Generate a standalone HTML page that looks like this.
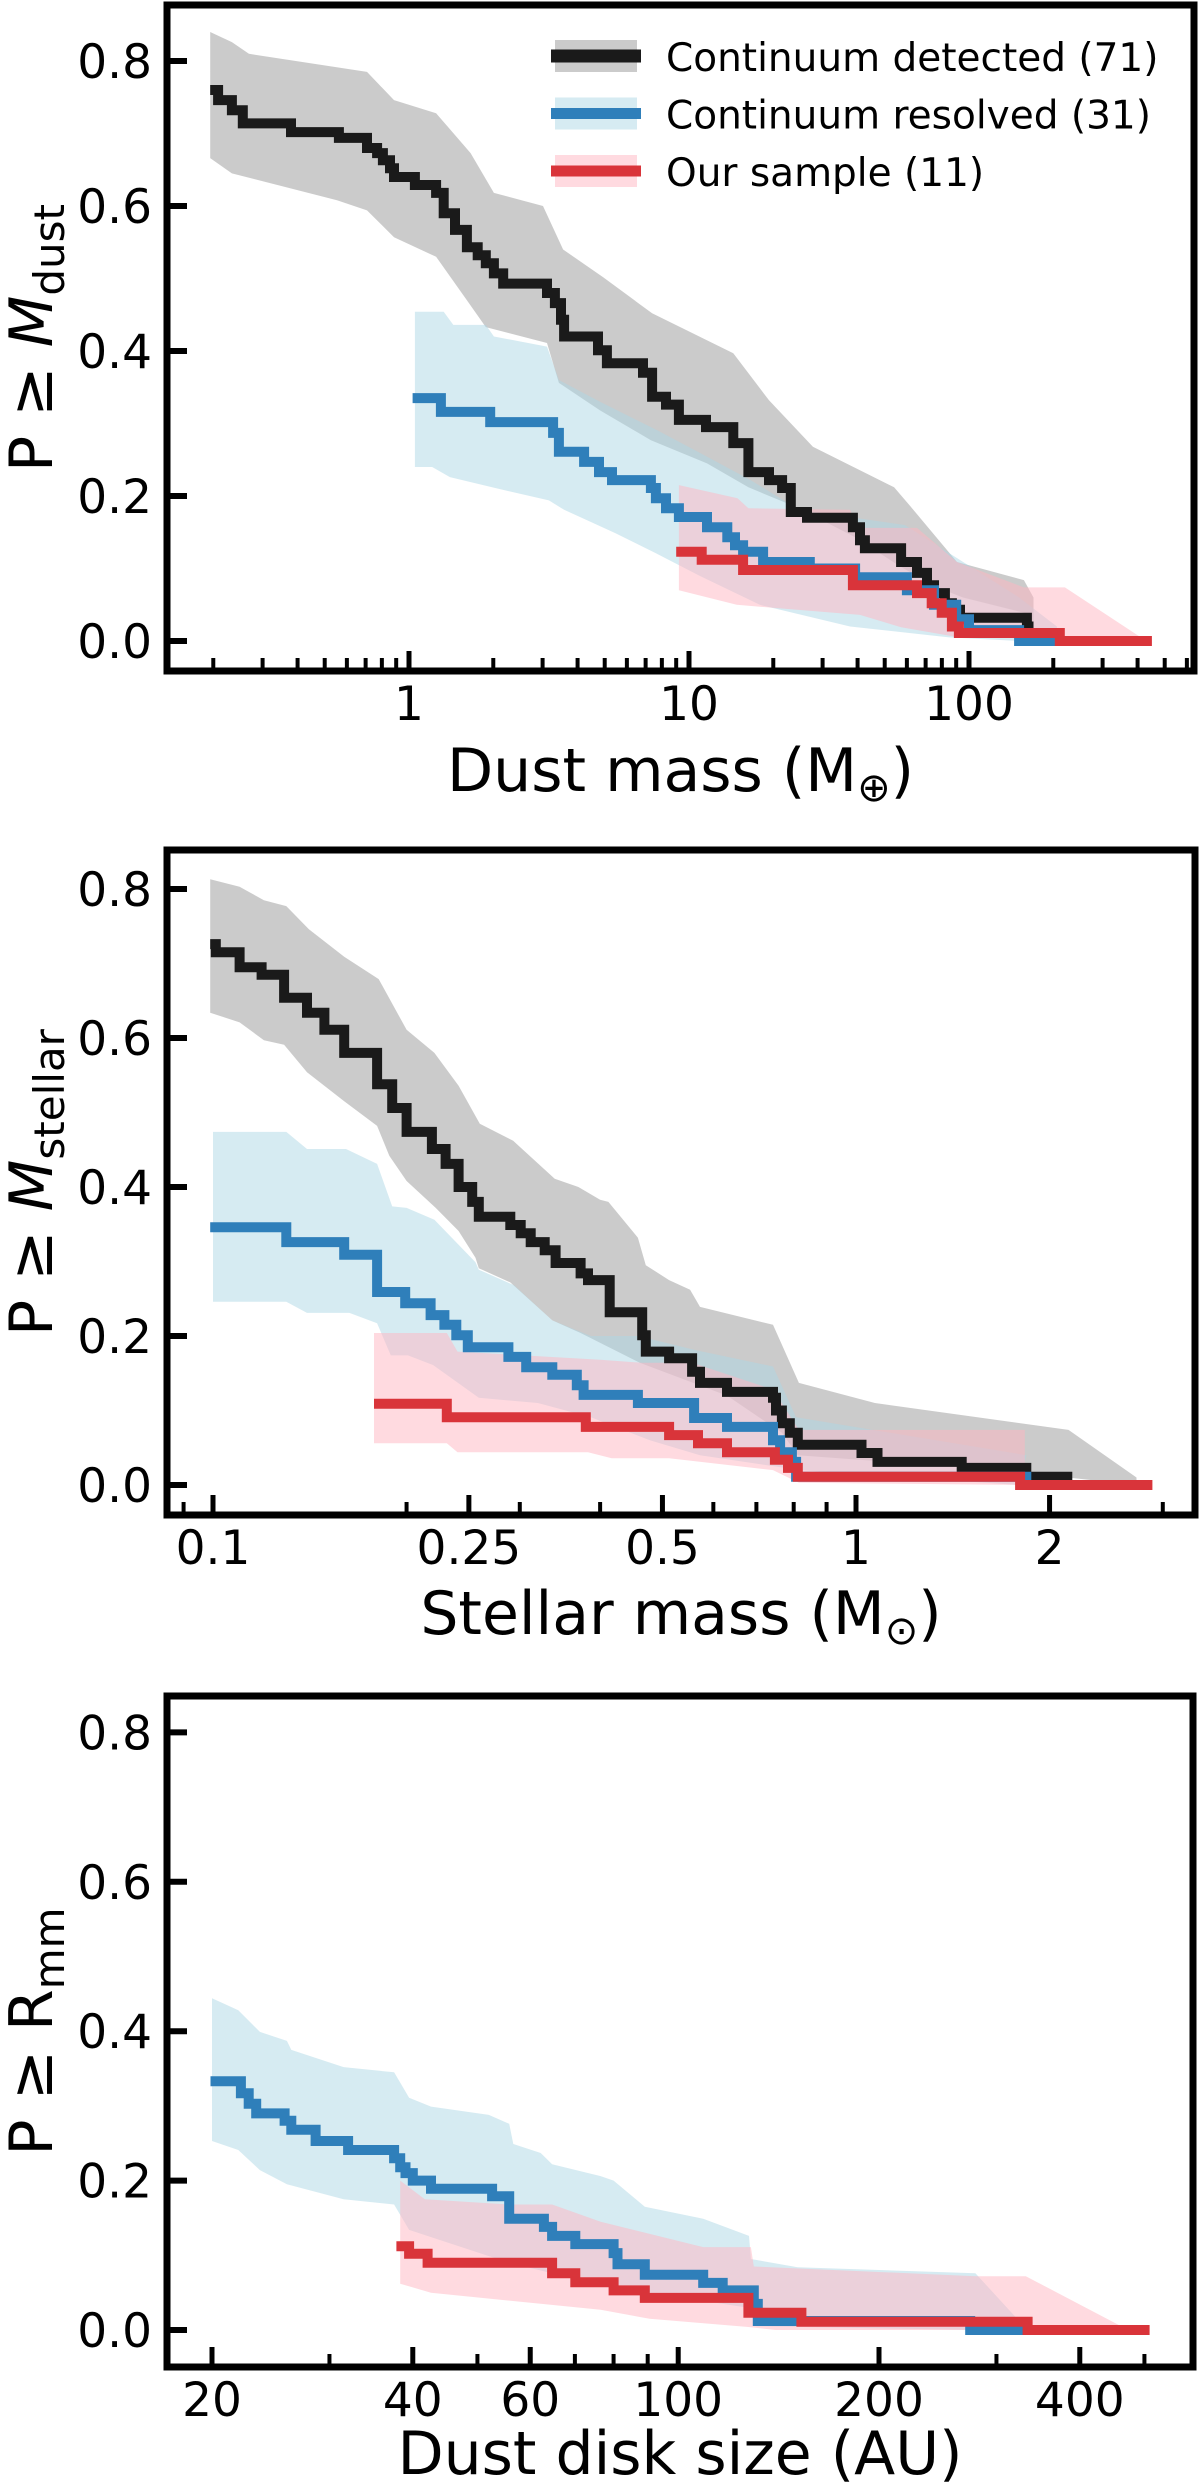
<!DOCTYPE html>
<html><head><meta charset="utf-8"><style>
html,body{margin:0;padding:0;background:#fff;}
svg{display:block;font-family:"DejaVu Sans","Liberation Sans",sans-serif;}
</style></head><body>
<svg id="fig" width="1200" height="2489" viewBox="0 0 1200 2489" xmlns="http://www.w3.org/2000/svg"></svg>
<script>
// ---------- Panel 1: dust mass ----------
const p1BlackX=[0.195,0.208,0.233,0.255,0.379,0.562,0.708,0.769,0.807,0.855,0.884,1.05,1.25,1.33,1.46,1.61,1.76,1.88,2.01,2.17,3.11,3.32,3.49,3.58,4.73,5.09,6.85,7.38,8.28,9.2,11.5,14.4,16.3,19.3,21.5,23.1,26.4,38.5,40.8,42.5,57.2,65.2,70.8,75,82,86.9,92.9,161];
const p1BlackY=[0.76,0.746,0.732,0.714,0.702,0.694,0.68,0.673,0.663,0.652,0.64,0.629,0.618,0.59,0.567,0.543,0.532,0.521,0.507,0.493,0.48,0.466,0.443,0.42,0.401,0.383,0.37,0.337,0.326,0.305,0.295,0.273,0.233,0.222,0.211,0.178,0.17,0.157,0.139,0.128,0.109,0.094,0.077,0.066,0.052,0.043,0.032,0.02];
const p1BlackEnd=170;
const p1BlueX=[1.03,1.3,1.95,3.27,3.43,4.22,4.77,5.31,7.31,7.62,8.28,9.2,11.6,13.7,14.6,15.6,18.4,27,39.2,60,75,90,100,151];
const p1BlueY=[0.335,0.316,0.302,0.287,0.261,0.247,0.233,0.222,0.211,0.197,0.183,0.171,0.157,0.143,0.132,0.123,0.109,0.1,0.088,0.07,0.05,0.03,0.015,0];
const p1BlueEnd=206;
const p1RedX=[9.0,11.1,15.6,38.5,65.2,73.6,79.9,86.9,92,211];
const p1RedY=[0.123,0.112,0.098,0.077,0.066,0.052,0.039,0.02,0.011,0];
const p1RedEnd=450;
const p1BlackUpX=[0.195,0.233,0.268,0.708,0.884,1.25,1.66,2.01,3.01,3.55,4.93,7.38,14.4,19.3,27.7,54,62,90.6,157,170];
const p1BlackUpY=[0.84,0.826,0.81,0.785,0.746,0.728,0.673,0.618,0.6,0.54,0.502,0.452,0.397,0.332,0.268,0.212,0.185,0.109,0.084,0.06];
const p1BlackLoX=[0.195,0.233,0.553,0.708,0.884,1.25,1.61,1.88,3.11,3.43,4.81,7.31,11.6,16.3,24.7,39.2,57.2,76.9,95.2,157,170];
const p1BlackLoY=[0.666,0.645,0.608,0.594,0.557,0.53,0.47,0.433,0.411,0.356,0.318,0.277,0.245,0.212,0.183,0.143,0.102,0.074,0.06,0.039,0.0];
const p1BlueUpX=[1.05,1.33,1.44,1.88,2.01,3.11,3.43,4.81,7.67,11.0,16.6,24.7,59,151,206];
const p1BlueUpY=[0.454,0.454,0.436,0.436,0.42,0.406,0.36,0.33,0.291,0.259,0.222,0.181,0.16,0.06,0.02];
const p1BlueLoX=[1.05,1.21,1.4,1.98,3.16,3.58,5.44,7.62,10.9,17.9,37.6,85,151,206];
const p1BlueLoY=[0.24,0.24,0.226,0.212,0.194,0.181,0.149,0.121,0.09,0.05,0.02,0.005,0,0];
const p1RedUpX=[9.2,14.9,16.3,37.6,40,65.2,90.6,157,220,411];
const p1RedUpY=[0.215,0.197,0.183,0.181,0.156,0.156,0.109,0.074,0.074,0.005];
const p1RedLoX=[9.2,14.8,40.8,57.2,89,411];
const p1RedLoY=[0.07,0.05,0.036,0.019,0.006,0];
const p1MajorTicks=[1,10,100];
const p1MajorLabels=["1","10","100"];
const p1MinorTicks=[0.2,0.3,0.4,0.5,0.6,0.7,0.8,0.9,2,3,4,5,6,7,8,9,20,30,40,50,60,70,80,90,200,300,400,500,600];

// ---------- Panel 2: stellar mass ----------
const p2BlackX=[0.099,0.101,0.11,0.119,0.129,0.14,0.149,0.16,0.18,0.19,0.2,0.219,0.23,0.241,0.253,0.259,0.29,0.301,0.312,0.328,0.341,0.373,0.383,0.414,0.465,0.471,0.512,0.556,0.572,0.63,0.743,0.751,0.767,0.789,0.812,1.02,1.08,1.46,1.84];
const p2BlackY=[0.726,0.715,0.695,0.685,0.654,0.634,0.611,0.58,0.538,0.506,0.474,0.451,0.431,0.4,0.38,0.36,0.349,0.338,0.326,0.315,0.298,0.284,0.275,0.232,0.201,0.179,0.17,0.152,0.137,0.125,0.117,0.1,0.083,0.07,0.054,0.043,0.031,0.023,0.011];
const p2BlackEnd=2.17;
const p2BlueX=[0.099,0.13,0.16,0.18,0.199,0.218,0.229,0.239,0.249,0.288,0.307,0.337,0.368,0.377,0.458,0.56,0.63,0.743,0.762,0.795,0.807,1.84];
const p2BlueY=[0.346,0.326,0.309,0.259,0.244,0.228,0.215,0.201,0.185,0.172,0.158,0.148,0.134,0.121,0.11,0.09,0.078,0.06,0.044,0.031,0.011,0];
const p2BlueEnd=2.0;
const p2RedX=[0.178,0.231,0.38,0.512,0.568,0.63,0.748,0.784,0.812,1.8];
const p2RedY=[0.109,0.091,0.078,0.067,0.056,0.044,0.034,0.023,0.011,0];
const p2RedEnd=2.89;
const p2BlackUpX=[0.099,0.11,0.12,0.13,0.141,0.16,0.181,0.2,0.221,0.241,0.26,0.293,0.34,0.37,0.4,0.412,0.458,0.471,0.512,0.552,0.572,0.743,0.815,1.07,2.14,2.73];
const p2BlackUpY=[0.813,0.803,0.785,0.777,0.746,0.709,0.679,0.611,0.58,0.536,0.485,0.462,0.411,0.4,0.383,0.38,0.332,0.295,0.275,0.262,0.239,0.215,0.137,0.11,0.074,0.01];
const p2BlackLoX=[0.099,0.11,0.12,0.129,0.14,0.16,0.18,0.188,0.2,0.222,0.241,0.256,0.259,0.29,0.337,0.373,0.461,0.63,0.767,0.812,1.67,2.73];
const p2BlackLoY=[0.634,0.621,0.597,0.591,0.554,0.515,0.482,0.442,0.408,0.372,0.341,0.305,0.291,0.272,0.221,0.204,0.164,0.12,0.07,0.04,0.02,0];
const p2BlueUpX=[0.1,0.13,0.14,0.161,0.18,0.19,0.2,0.221,0.256,0.259,0.294,0.337,0.387,0.4,0.458,0.564,0.743,0.807,1.84];
const p2BlueUpY=[0.474,0.474,0.451,0.451,0.431,0.374,0.372,0.356,0.299,0.289,0.268,0.221,0.2,0.2,0.2,0.181,0.159,0.091,0.04];
const p2BlueLoX=[0.1,0.13,0.14,0.163,0.18,0.189,0.201,0.22,0.259,0.32,0.387,0.478,0.572,0.818,1.79];
const p2BlueLoY=[0.246,0.246,0.231,0.231,0.217,0.174,0.174,0.161,0.117,0.11,0.091,0.06,0.04,0.02,0];
const p2RedUpX=[0.178,0.231,0.24,0.4,0.465,0.556,0.743,0.815,1.83];
const p2RedUpY=[0.204,0.204,0.179,0.168,0.164,0.164,0.128,0.074,0.074];
const p2RedLoX=[0.178,0.231,0.24,0.383,0.417,0.512,0.743,0.815,1.83];
const p2RedLoY=[0.056,0.056,0.044,0.044,0.036,0.036,0.02,0.003,0];
const p2MajorTicks=[0.1,0.25,0.5,1,2];
const p2MajorLabels=["0.1","0.25","0.5","1","2"];
const p2MinorTicks=[0.09,0.2,0.3,0.4,0.6,0.7,0.8,0.9,3];

// ---------- Panel 3: dust disk size ----------
const p3BlueX=[19.9,22.1,22.7,23.3,25.7,26.3,28.6,32.0,37.5,38.3,39.0,40.0,42.6,52.6,55.8,62.9,64.7,70.1,80,81.1,89.1,109,116.6,129.8,131.6,274];
const p3BlueY=[0.333,0.317,0.303,0.29,0.28,0.268,0.253,0.241,0.23,0.218,0.21,0.2,0.189,0.179,0.149,0.138,0.126,0.115,0.103,0.088,0.074,0.063,0.053,0.035,0.012,0];
const p3BlueEnd=332;
const p3RedX=[37.8,39.5,42.1,64.7,70.1,80,89.1,127.4,153,334];
const p3RedY=[0.112,0.102,0.09,0.076,0.064,0.053,0.043,0.023,0.011,0];
const p3RedEnd=509;
const p3BlueUpX=[20,21.9,23.6,25.9,26.3,31.5,37.5,39.5,42.6,52,55.8,56.6,62.2,64.7,76.5,80,89.1,109,127.7,128.5,151,279,326];
const p3BlueUpY=[0.444,0.428,0.399,0.387,0.375,0.352,0.345,0.311,0.299,0.288,0.276,0.249,0.237,0.222,0.206,0.2,0.165,0.149,0.126,0.095,0.084,0.076,0.01];
const p3BlueLoX=[20,21.9,23.6,25.9,31.5,37.5,39.5,55.8,76.5,127,131,279];
const p3BlueLoY=[0.253,0.241,0.214,0.195,0.175,0.168,0.134,0.09,0.06,0.03,0.005,0];
const p3RedUpX=[38.3,41.7,55.8,64.7,76.5,109,128.5,129.8,279,332,473];
const p3RedUpY=[0.2,0.175,0.168,0.168,0.145,0.111,0.111,0.085,0.072,0.072,0];
const p3RedLoX=[38.3,42.6,76.5,90.6,127.4,140,473];
const p3RedLoY=[0.062,0.05,0.027,0.015,0.004,0,0];
const p3MajorTicks=[20,40,60,100,200,400];
const p3MajorLabels=["20","40","60","100","200","400"];
const p3MinorTicks=[30,50,70,80,90,300,500];

const yTicks=[0,0.2,0.4,0.6,0.8];
const yTickLabels=["0.0","0.2","0.4","0.6","0.8"];

const NS="http://www.w3.org/2000/svg";
const fig=document.getElementById('fig');
function mk(tag,parent){const e=document.createElementNS(NS,tag);parent.appendChild(e);return e;}

const COL={black:"#1a1a1a",blue:"#2f7fba",red:"#d9343a",
  bandBlack:"rgba(140,140,140,0.45)",bandBlue:"rgba(173,216,230,0.5)",bandRed:"rgba(255,182,193,0.5)"};

function makePanel(cfg){
  const g=mk('g',fig);
  
  
  const X=v=>cfg.x0+cfg.xs*Math.log10(v/cfg.xref);
  const Y=v=>cfg.y0-cfg.ys*v;
  const clip=mk('clipPath',g);clip.setAttribute('id',cfg.name+'-clip');
  const cr=mk('rect',clip);cr.setAttribute('x',cfg.L);cr.setAttribute('y',cfg.T);cr.setAttribute('width',cfg.R-cfg.L);cr.setAttribute('height',cfg.B-cfg.T);
  const plot=mk('g',g);plot.setAttribute('clip-path','url(#'+cfg.name+'-clip)');
  
  
  // bands
  cfg.bands.forEach(b=>{
    const pts=[];
    for(let i=0;i<b.ux.length;i++)pts.push(X(b.ux[i]).toFixed(1)+','+Y(b.uy[i]).toFixed(1));
    for(let i=b.lx.length-1;i>=0;i--)pts.push(X(b.lx[i]).toFixed(1)+','+Y(b.ly[i]).toFixed(1));
    const p=mk('polygon',plot);
    p.setAttribute('points',pts.join(' '));
    p.setAttribute('fill',b.fill);
    
    
  });
  // step lines
  cfg.lines.forEach(s=>{
    let d='';
    for(let i=0;i<s.x.length;i++){
      const xa=X(s.x[i]),ya=Y(s.y[i]);
      const xb=X(i+1<s.x.length?s.x[i+1]:s.end);
      d+=(i===0?'M':'L')+xa.toFixed(1)+','+ya.toFixed(1)+'L'+xb.toFixed(1)+','+ya.toFixed(1);
    }
    const p=mk('path',plot);
    p.setAttribute('d',d);p.setAttribute('fill','none');p.setAttribute('stroke',s.color);
    p.setAttribute('stroke-width','10');p.setAttribute('stroke-linejoin','miter');
    
    
  });
  // frame
  const fr=mk('rect',g);
  fr.setAttribute('x',cfg.L);fr.setAttribute('y',cfg.T);fr.setAttribute('width',cfg.R-cfg.L);fr.setAttribute('height',cfg.B-cfg.T);
  fr.setAttribute('fill','none');fr.setAttribute('stroke','#000');fr.setAttribute('stroke-width','7');
  
  
  // y ticks
  yTicks.forEach((v,i)=>{
    const t=mk('line',g);
    t.setAttribute('x1',cfg.L);t.setAttribute('x2',cfg.L+20);t.setAttribute('y1',Y(v));t.setAttribute('y2',Y(v));
    t.setAttribute('stroke','#000');t.setAttribute('stroke-width','6');
    
    
    const tx=mk('text',g);
    tx.setAttribute('x',cfg.L-15);tx.setAttribute('y',Y(v)+17);tx.setAttribute('text-anchor','end');
    tx.setAttribute('font-size','47');tx.textContent=yTickLabels[i];
    
    
  });
  // x ticks
  cfg.major.forEach((v,i)=>{
    const t=mk('line',g);
    t.setAttribute('x1',X(v));t.setAttribute('x2',X(v));t.setAttribute('y1',cfg.B);t.setAttribute('y2',cfg.B-20);
    t.setAttribute('stroke','#000');t.setAttribute('stroke-width','5');
    
    
    const tx=mk('text',g);
    tx.setAttribute('x',X(v));tx.setAttribute('y',cfg.B+49);tx.setAttribute('text-anchor','middle');
    tx.setAttribute('font-size','47');tx.textContent=cfg.majorLabels[i];
    
    
  });
  cfg.minor.forEach(v=>{
    const t=mk('line',g);
    t.setAttribute('x1',X(v));t.setAttribute('x2',X(v));t.setAttribute('y1',cfg.B);t.setAttribute('y2',cfg.B-13);
    t.setAttribute('stroke','#000');t.setAttribute('stroke-width','4');
    
    
  });
  // x label
  const xl=mk('text',g);
  xl.setAttribute('x',(cfg.L+cfg.R)/2);xl.setAttribute('y',cfg.xlabelY);xl.setAttribute('text-anchor','middle');
  xl.setAttribute('font-size','60');
  xl.innerHTML=cfg.xlabel;
  
  
  // y label
  const yl=mk('text',g);
  const cy=(cfg.T+cfg.B)/2;
  yl.setAttribute('transform','translate(52,'+cy+') rotate(-90)');
  yl.setAttribute('text-anchor','middle');yl.setAttribute('font-size','60');
  yl.innerHTML=cfg.ylabel;
  
  
  return g;
}

makePanel({name:'dust-mass-panel',L:167,R:1194,T:5,B:671,x0:409,xs:280,xref:1,y0:641,ys:725,
  major:p1MajorTicks,majorLabels:p1MajorLabels,minor:p1MinorTicks,xlabelY:791,
  xlabel:'Dust mass (M<tspan font-size="40" dy="10">⊕</tspan><tspan dy="-10">)</tspan>',
  ylabel:'P ≥ <tspan font-style="italic">M</tspan><tspan font-size="42" dy="12">dust</tspan>',
  bands:[{ux:p1BlackUpX,uy:p1BlackUpY,lx:p1BlackLoX,ly:p1BlackLoY,fill:COL.bandBlack,label:'detected-band'},
         {ux:p1BlueUpX,uy:p1BlueUpY,lx:p1BlueLoX,ly:p1BlueLoY,fill:COL.bandBlue,label:'resolved-band'},
         {ux:p1RedUpX,uy:p1RedUpY,lx:p1RedLoX,ly:p1RedLoY,fill:COL.bandRed,label:'our-sample-band'}],
  lines:[{x:p1BlackX,y:p1BlackY,end:p1BlackEnd,color:COL.black,label:'detected-line'},
         {x:p1BlueX,y:p1BlueY,end:p1BlueEnd,color:COL.blue,label:'resolved-line'},
         {x:p1RedX,y:p1RedY,end:p1RedEnd,color:COL.red,label:'our-sample-line'}]});

makePanel({name:'stellar-mass-panel',L:167,R:1195,T:850,B:1515,x0:856,xs:643,xref:1,y0:1485,ys:745,
  major:p2MajorTicks,majorLabels:p2MajorLabels,minor:p2MinorTicks,xlabelY:1634,
  xlabel:'Stellar mass (M<tspan font-size="40" dy="10">⊙</tspan><tspan dy="-10">)</tspan>',
  ylabel:'P ≥ <tspan font-style="italic">M</tspan><tspan font-size="42" dy="12">stellar</tspan>',
  bands:[{ux:p2BlackUpX,uy:p2BlackUpY,lx:p2BlackLoX,ly:p2BlackLoY,fill:COL.bandBlack,label:'detected-band'},
         {ux:p2BlueUpX,uy:p2BlueUpY,lx:p2BlueLoX,ly:p2BlueLoY,fill:COL.bandBlue,label:'resolved-band'},
         {ux:p2RedUpX,uy:p2RedUpY,lx:p2RedLoX,ly:p2RedLoY,fill:COL.bandRed,label:'our-sample-band'}],
  lines:[{x:p2BlackX,y:p2BlackY,end:p2BlackEnd,color:COL.black,label:'detected-line'},
         {x:p2BlueX,y:p2BlueY,end:p2BlueEnd,color:COL.blue,label:'resolved-line'},
         {x:p2RedX,y:p2RedY,end:p2RedEnd,color:COL.red,label:'our-sample-line'}]});

makePanel({name:'disk-size-panel',L:167,R:1193,T:1696,B:2367,x0:212,xs:667,xref:20,y0:2330,ys:747,
  major:p3MajorTicks,majorLabels:p3MajorLabels,minor:p3MinorTicks,xlabelY:2474,
  xlabel:'Dust disk size (AU)',
  ylabel:'P ≥ R<tspan font-size="42" dy="12">mm</tspan>',
  bands:[{ux:p3BlueUpX,uy:p3BlueUpY,lx:p3BlueLoX,ly:p3BlueLoY,fill:COL.bandBlue,label:'resolved-band'},
         {ux:p3RedUpX,uy:p3RedUpY,lx:p3RedLoX,ly:p3RedLoY,fill:COL.bandRed,label:'our-sample-band'}],
  lines:[{x:p3BlueX,y:p3BlueY,end:p3BlueEnd,color:COL.blue,label:'resolved-line'},
         {x:p3RedX,y:p3RedY,end:p3RedEnd,color:COL.red,label:'our-sample-line'}]});

// legend
const legendLabels=["Continuum detected (71)","Continuum resolved (31)","Our sample (11)"];
const legendLineColors=[COL.black,COL.blue,COL.red];
const legendBandColors=[COL.bandBlack,COL.bandBlue,COL.bandRed];
const lg=mk('g',fig);


legendLabels.forEach((lab,i)=>{
  const cy=56+i*57.5;
  const e=mk('g',lg);
  
  
  const r=mk('rect',e);r.setAttribute('x',555);r.setAttribute('y',cy-16);r.setAttribute('width',82);r.setAttribute('height',32);r.setAttribute('fill',legendBandColors[i]);
  const l=mk('line',e);l.setAttribute('x1',551);l.setAttribute('x2',641);l.setAttribute('y1',cy);l.setAttribute('y2',cy);
  l.setAttribute('stroke',legendLineColors[i]);l.setAttribute('stroke-width',i===0?13:11);
  const t=mk('text',e);t.setAttribute('x',666);t.setAttribute('y',cy+15);t.setAttribute('font-size','39');t.textContent=lab;
});
</script>
</body></html>
